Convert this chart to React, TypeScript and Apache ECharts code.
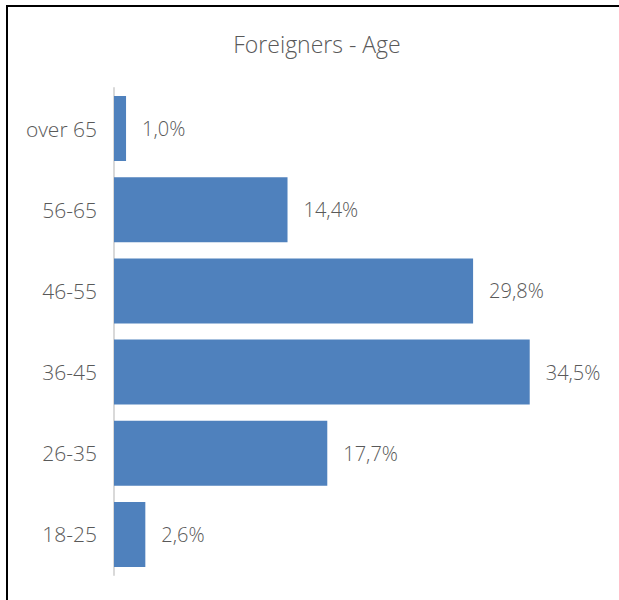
import React, { useEffect, useRef } from "react";
import * as echarts from "echarts";

const categories = ["18-25", "26-35", "36-45", "46-55", "56-65", "over 65"];
const shares = [2.6, 17.7, 34.5, 29.8, 14.4, 1.0];
const titleText = "Foreigners - Age";

const FONT = "'Open Sans', 'Segoe UI', sans-serif";
const TEXT_COLOR = "#595959";

export default function App() {
  const ref = useRef<HTMLDivElement>(null);
  useEffect(() => {
    if (!ref.current) return;
    const chart = echarts.init(ref.current, null, { renderer: "svg" });
    chart.setOption({
      animation: false,
      backgroundColor: "#ffffff",
      title: {
        text: titleText,
        left: 312,
        top: 27,
        textAlign: "center",
        textStyle: { fontFamily: FONT, fontWeight: 300, fontSize: 23, color: TEXT_COLOR },
      },
      graphic: [
        {
          type: "rect",
          shape: { x: 7, y: 6, width: 700, height: 700 },
          style: { fill: "none", stroke: "#000000", lineWidth: 2 },
          silent: true,
        },
      ],
      grid: { left: 114, top: 88, height: 487, width: 482 },
      xAxis: {
        type: "value",
        min: 0,
        max: 40,
        show: false,
      },
      yAxis: {
        type: "category",
        data: categories,
        axisLine: { show: true, lineStyle: { color: "#d9d9d9", width: 2 } },
        axisTick: { show: false },
        axisLabel: {
          margin: 17,
          fontFamily: FONT,
          fontWeight: 300,
          fontSize: 21,
          color: TEXT_COLOR,
        },
      },
      series: [
        {
          type: "bar",
          data: shares,
          barCategoryGap: "20%",
          itemStyle: { color: "#4F81BD" },
          label: {
            show: true,
            position: "right",
            distance: 16,
            fontFamily: FONT,
            fontWeight: 300,
            fontSize: 20,
            color: TEXT_COLOR,
            formatter: (p: any) => p.value.toFixed(1).replace(".", ",") + "%",
          },
        },
      ],
    });
    return () => chart.dispose();
  }, []);
  return (
    <div
      ref={ref}
      style={{ position: "absolute", left: 0, top: 0, width: 619, height: 600 }}
    />
  );
}
